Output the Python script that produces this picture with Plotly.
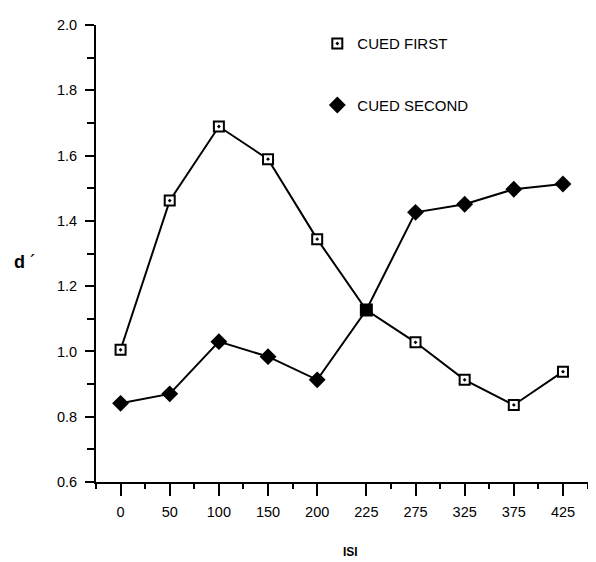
import plotly.graph_objects as go

isi_labels = ["0", "50", "100", "150", "200", "225", "275", "325", "375", "425"]
cued_first = [1.005, 1.462, 1.689, 1.589, 1.344, 1.127, 1.028, 0.913, 0.836, 0.938]
cued_second = [0.841, 0.870, 1.030, 0.984, 0.913, 1.127, 1.426, 1.451, 1.497, 1.513]
y_ticks = [0.6, 0.8, 1.0, 1.2, 1.4, 1.6, 1.8, 2.0]

xpos = list(range(len(isi_labels)))
font_family = "Liberation Sans, Arial, sans-serif"

# at ISI 225 the two curves coincide: drawn as one filled square
first_fill = ["white"] * len(cued_first)
first_fill[5] = "black"
first_size = [10] * len(cued_first)
first_size[5] = 11
second_size = [13] * len(cued_second)
second_size[5] = 0

sq_marker = dict(symbol="square-dot", size=10, color="white", opacity=1,
                 line=dict(color="black", width=2))
dia_marker = dict(symbol="diamond", size=13, color="black", opacity=1,
                  line=dict(color="black", width=0))

fig = go.Figure()
fig.add_trace(go.Scatter(
    x=xpos, y=cued_second, mode="lines+markers", showlegend=False,
    line=dict(color="black", width=2), marker=dict(dia_marker, size=second_size),
))
fig.add_trace(go.Scatter(
    x=xpos, y=cued_first, mode="lines+markers", showlegend=False,
    line=dict(color="black", width=2),
    marker=dict(sq_marker, color=first_fill, size=first_size),
))
# legend-only entries
fig.add_trace(go.Scatter(x=[None], y=[None], mode="markers", name="CUED FIRST",
                         marker=sq_marker, legendgroup="a", legendrank=1))
fig.add_trace(go.Scatter(x=[None], y=[None], mode="markers", name="CUED SECOND",
                         marker=dia_marker, legendgroup="b", legendrank=2))

minor_x = [-0.5, 0.5, 1.5, 2.5, 3.5, 5.5, 6.5, 7.5, 8.5, 9.5]

# page body has an 8px default margin: figure is sized/offset to compensate
fig.update_layout(
    width=588, height=554,
    margin=dict(l=88, r=6, t=17, b=80),
    paper_bgcolor="white", plot_bgcolor="white",
    font=dict(family=font_family, size=14.5, color="black"),
    showlegend=True,
    legend=dict(
        x=0.448, y=0.995, xanchor="left", yanchor="top",
        traceorder="grouped", tracegroupgap=39,
        font=dict(size=15, family=font_family),
        bgcolor="rgba(0,0,0,0)", itemwidth=30,
    ),
    xaxis=dict(
        range=[-0.5, 9.55], tickmode="array", tickvals=xpos, ticktext=isi_labels,
        showgrid=False, zeroline=False, showline=True, linecolor="black", linewidth=2,
        ticks="outside", ticklen=12, tickwidth=2, tickcolor="black",
        ticklabelstandoff=4, automargin=False,
        minor=dict(tickvals=minor_x, ticks="outside", ticklen=5, tickwidth=2, tickcolor="black", showgrid=False),
    ),
    yaxis=dict(
        range=[0.6, 2.0], tickmode="array", tickvals=y_ticks,
        ticktext=[f"{v:.1f}" for v in y_ticks],
        showgrid=False, zeroline=False, showline=True, linecolor="black", linewidth=2,
        ticks="outside", ticklen=9, tickwidth=2, tickcolor="black",
        ticklabelstandoff=5, automargin=False,
        minor=dict(dtick=0.1, tick0=0.6, ticks="outside", ticklen=7, tickwidth=2, tickcolor="black", showgrid=False),
    ),
    annotations=[
        dict(text="<b>d</b> ´", xref="paper", yref="paper", xanchor="center", yanchor="middle",
             x=(25 - 96) / 494, y=(482 - 262) / 457, showarrow=False,
             font=dict(size=18, family=font_family)),
        dict(text="<b>ISI</b>", xref="paper", yref="paper", xanchor="center", yanchor="middle",
             x=(350 - 96) / 494, y=(482 - 552) / 457, showarrow=False,
             font=dict(size=12, family=font_family)),
    ],
)

fig.write_html("out.html")
